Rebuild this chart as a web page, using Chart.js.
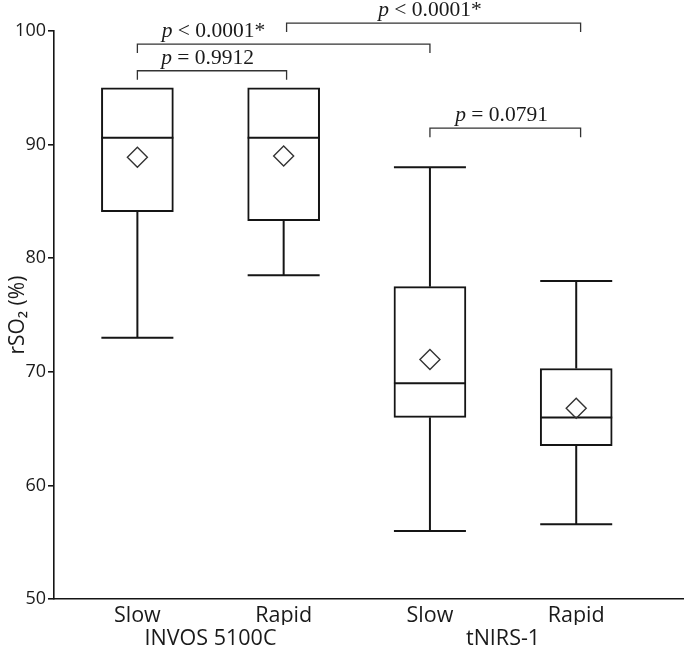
<!DOCTYPE html>
<html lang="en">
<head>
    <meta charset="UTF-8">
    <title>rSO2 box plot</title>
    <script src="https://cdn.jsdelivr.net/npm/chart.js"></script>
    <style>
        html, body {
            margin: 0;
            background: #fff;
            overflow: hidden;
        }
        #wrap {
            width: 685px;
            height: 656px;
        }
        canvas {
            display: block;
        }
    </style>
</head>
<body>
    <div id="wrap"><canvas id="boxChart"></canvas></div>

    <script>
        // Datos
        const categories = ['Slow', 'Rapid', 'Slow', 'Rapid'];
        const positions = [1, 2, 3, 4];
        const groups = ['INVOS 5100C', 'tNIRS-1'];
        const groupMembers = [[0, 1], [2, 3]];

        const whiskerLow = [73.0, 78.5, 56.0, 56.6];
        const q1 = [84.1, 83.3, 66.0, 63.5];
        const median = [90.6, 90.6, 69.0, 66.0];
        const q3 = [95.0, 95.0, 77.5, 70.3];
        const whiskerHigh = [95.0, 95.0, 88.0, 78.0];
        const mean = [88.9, 89.0, 71.1, 66.8];

        const yTicks = [50, 60, 70, 80, 90, 100];

        // Corchetes de comparación
        const bracketFrom = [1, 1, 2.02, 3];
        const bracketTo = [2.02, 3, 4.03, 4.03];
        const bracketLevel = [96.5, 98.85, 100.7, 91.45];
        const bracketLabelX = [1.48, 1.52, 3.0, 3.49];
        const bracketOp = [' = 0.9912', ' < 0.0001*', ' < 0.0001*', ' = 0.0791'];

        const ink = '#151515';
        const boxPx = 72;

        const boxPlugin = {
            id: 'boxExtras',
            afterDatasetDraw(chart, args) {
                if (args.index !== 1) return;
                const ctx = chart.ctx;
                const xs = chart.scales.x, ys = chart.scales.y;
                ctx.save();
                ctx.strokeStyle = ink;
                ctx.lineWidth = 2;
                positions.forEach((p, i) => {
                    const cx = xs.getPixelForValue(p);
                    const half = boxPx / 2;
                    const line = (x1, y1, x2, y2) => {
                        ctx.beginPath();
                        ctx.moveTo(x1, y1);
                        ctx.lineTo(x2, y2);
                        ctx.stroke();
                    };
                    // mediana
                    const ym = ys.getPixelForValue(median[i]);
                    line(cx - half, ym, cx + half, ym);
                    // bigotes
                    if (whiskerHigh[i] > q3[i]) {
                        const yh = ys.getPixelForValue(whiskerHigh[i]);
                        line(cx, ys.getPixelForValue(q3[i]), cx, yh);
                        line(cx - half, yh, cx + half, yh);
                    }
                    if (whiskerLow[i] < q1[i]) {
                        const yl = ys.getPixelForValue(whiskerLow[i]);
                        line(cx, ys.getPixelForValue(q1[i]), cx, yl);
                        line(cx - half, yl, cx + half, yl);
                    }
                });
                ctx.restore();
            },
            afterDraw(chart) {
                const ctx = chart.ctx;
                const xs = chart.scales.x, ys = chart.scales.y;
                ctx.save();
                // corchetes y valores p
                ctx.strokeStyle = '#333';
                ctx.lineWidth = 1.3;
                ctx.fillStyle = '#1a1a1a';
                ctx.textBaseline = 'alphabetic';
                bracketFrom.forEach((b, i) => {
                    const x1 = xs.getPixelForValue(b);
                    const x2 = xs.getPixelForValue(bracketTo[i]);
                    const y = ys.getPixelForValue(bracketLevel[i]);
                    ctx.beginPath();
                    ctx.moveTo(x1, y + 9);
                    ctx.lineTo(x1, y);
                    ctx.lineTo(x2, y);
                    ctx.lineTo(x2, y + 9);
                    ctx.stroke();

                    const italic = 'italic 21.5px "Liberation Serif"';
                    const normal = '21.5px "Liberation Serif"';
                    ctx.font = italic;
                    const wp = ctx.measureText('p').width;
                    ctx.font = normal;
                    const wr = ctx.measureText(bracketOp[i]).width;
                    const cx = xs.getPixelForValue(bracketLabelX[i]);
                    const left = cx - (wp + wr) / 2;
                    ctx.textAlign = 'left';
                    ctx.font = italic;
                    ctx.fillText('p', left, y - 7);
                    ctx.font = normal;
                    ctx.fillText(bracketOp[i], left + wp, y - 7);
                });
                // etiquetas de grupo
                ctx.fillStyle = '#1a1a1a';
                ctx.font = '21.5px "Open Sans"';
                ctx.textAlign = 'center';
                ctx.textBaseline = 'middle';
                groups.forEach((g, k) => {
                    const m = groupMembers[k];
                    const cx = (xs.getPixelForValue(positions[m[0]]) + xs.getPixelForValue(positions[m[1]])) / 2;
                    ctx.fillText(g, cx, 639);
                });
                ctx.restore();
            }
        };

        const ctx = document.getElementById('boxChart').getContext('2d');
        new Chart(ctx, {
            type: 'bar',
            data: {
                datasets: [{
                    type: 'scatter',
                    data: positions.map((x, i) => ({ x: x, y: mean[i] })),
                    pointStyle: 'rectRot',
                    pointRadius: 10,
                    pointBackgroundColor: 'rgba(255,255,255,0)',
                    pointBorderColor: '#333',
                    pointBorderWidth: 1.4
                }, {
                    type: 'bar',
                    data: positions.map((x, i) => ({ x: x, y: [q1[i], q3[i]] })),
                    backgroundColor: '#fff',
                    borderColor: ink,
                    borderWidth: 2,
                    borderSkipped: false,
                    barThickness: boxPx,
                    grouped: false
                }]
            },
            options: {
                responsive: true,
                maintainAspectRatio: false,
                animation: false,
                layout: {
                    autoPadding: false,
                    padding: { top: 31, right: 2, bottom: 31, left: 0 }
                },
                plugins: {
                    legend: { display: false },
                    tooltip: { enabled: false }
                },
                scales: {
                    x: {
                        type: 'linear',
                        offset: false,
                        min: 0.43,
                        max: 4.73,
                        afterBuildTicks: scale => {
                            scale.ticks = positions.map(v => ({ value: v }));
                        },
                        ticks: {
                            callback: (value, index) => categories[index],
                            font: { family: 'Open Sans', size: 21.5 },
                            color: '#1a1a1a',
                            padding: -4,
                            maxRotation: 0,
                            autoSkip: false
                        },
                        grid: { display: false },
                        border: { display: true, color: ink, width: 1.6 }
                    },
                    y: {
                        min: 50,
                        max: 100,
                        afterBuildTicks: scale => {
                            scale.ticks = yTicks.map(v => ({ value: v }));
                        },
                        afterFit: scale => {
                            scale.width = 54;
                        },
                        ticks: {
                            font: { family: 'Open Sans', size: 18 },
                            color: '#1a1a1a',
                            padding: 2
                        },
                        grid: {
                            drawOnChartArea: false,
                            drawTicks: true,
                            tickLength: 6,
                            color: ink,
                            lineWidth: 1.6
                        },
                        border: { display: true, color: ink, width: 1.6 },
                        title: {
                            display: true,
                            text: 'rSO₂ (%)',
                            font: { family: 'Open Sans', size: 21 },
                            color: '#1a1a1a',
                            padding: { top: 5, bottom: 0 }
                        }
                    }
                }
            },
            plugins: [boxPlugin]
        });
    </script>
</body>
</html>
